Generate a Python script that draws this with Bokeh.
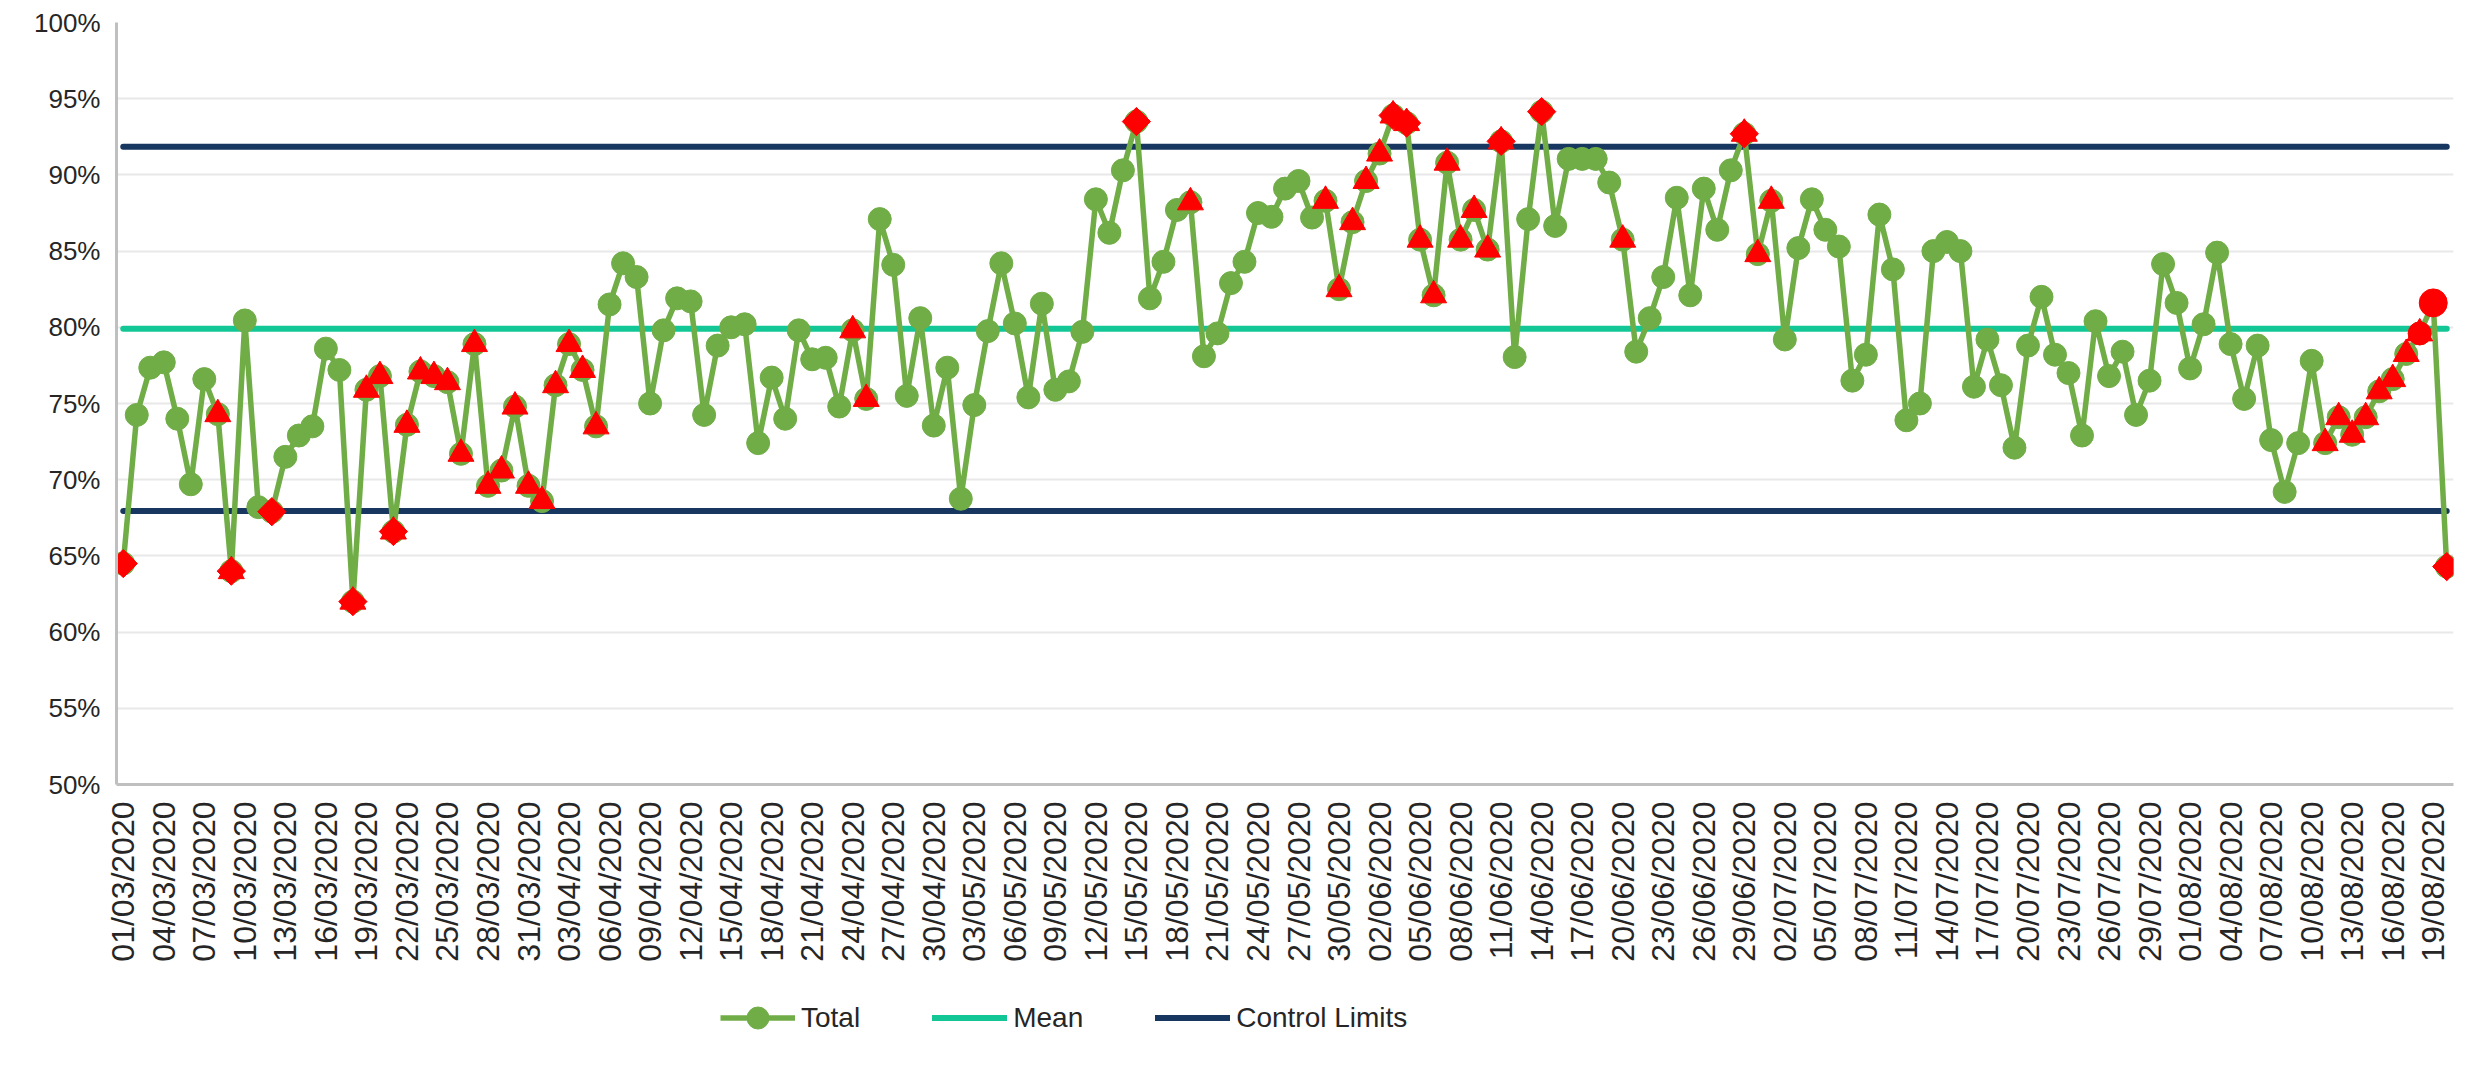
import pandas as pd
from math import pi
from bokeh.plotting import figure
from bokeh.layouts import column
from bokeh.models import (ColumnDataSource, FixedTicker, NumeralTickFormatter,
                          Legend, LegendItem, Range1d)
from bokeh.embed import file_html
from bokeh.resources import INLINE

# ---------------- data (percent) ----------------
total_pct = [
    64.5, 74.25, 77.35, 77.7, 74.0, 69.7, 76.6, 74.3, 64.0, 80.45,
    68.2, 67.9, 71.5, 72.9, 73.5, 78.6, 77.2, 62.0, 75.9, 76.8,
    66.6, 73.6, 77.1, 76.8, 76.4, 71.7, 78.9, 69.6, 70.6, 74.8,
    69.6, 68.6, 76.2, 78.9, 77.2, 73.5, 81.5, 84.2, 83.3, 75.0,
    79.8, 81.9, 81.7, 74.25, 78.8, 80.0, 80.2, 72.4, 76.7, 74.0,
    79.8, 77.9, 78.0, 74.8, 79.8, 75.3, 87.1, 84.1, 75.5, 80.6,
    73.55, 77.35, 68.75, 74.9, 79.75, 84.2, 80.25, 75.4, 81.55, 75.9,
    76.45, 79.7, 88.4, 86.2, 90.3, 93.5, 81.9, 84.3, 87.7, 88.2,
    78.1, 79.6, 82.9, 84.3, 87.5, 87.25, 89.1, 89.6, 87.2, 88.3,
    82.5, 86.9, 89.6, 91.4, 93.9, 93.4, 85.75, 82.1, 90.8, 85.75,
    87.7, 85.1, 92.2, 78.05, 87.1, 94.15, 86.65, 91.05, 91.05, 91.05,
    89.5, 85.75, 78.4, 80.6, 83.3, 88.5, 82.1, 89.1, 86.4, 90.3,
    92.7, 84.8, 88.3, 79.2, 85.2, 88.4, 86.4, 85.3, 76.5, 78.2,
    87.4, 83.8, 73.9, 75.0, 85.0, 85.6, 85.0, 76.1, 79.2, 76.2,
    72.1, 78.8, 82.0, 78.2, 77.0, 72.9, 80.4, 76.8, 78.4, 74.25,
    76.5, 84.15, 81.6, 77.3, 80.2, 84.9, 78.9, 75.3, 78.8, 72.6,
    69.2, 72.4, 77.8, 72.4, 74.1, 72.95, 74.1, 75.8, 76.6, 78.25,
    79.6, 81.6, 64.3,
]
# indices of points flagged in red
trend_idx = [7, 8, 17, 18, 19, 20, 21, 22, 23, 24, 25, 26, 27, 28, 29, 30, 31,
             32, 33, 34, 35, 54, 55, 79, 89, 90, 91, 92, 93, 94, 95, 96, 97,
             98, 99, 100, 101, 102, 111, 120, 121, 122, 163, 164, 165, 166,
             167, 168, 169, 170]
outside_idx = [0, 8, 11, 17, 20, 75, 94, 95, 102, 105, 120, 172]
latest_idx = [170, 171]
mean_pct = 79.9
ucl_pct = 91.85
lcl_pct = 67.95
y_ticks = [0.50, 0.55, 0.60, 0.65, 0.70, 0.75, 0.80, 0.85, 0.90, 0.95, 1.00]
start_date = "2020-03-01"
label_step = 3

# ---------------- derived ----------------
n = len(total_pct)
dates = pd.date_range(start_date, periods=n).strftime("%d/%m/%Y").tolist()
xs = list(range(n))
ys = [v / 100 for v in total_pct]
src = ColumnDataSource(dict(x=xs, y=ys, date=dates))
tri = ColumnDataSource(dict(x=trend_idx, y=[ys[i] for i in trend_idx]))
dia = ColumnDataSource(dict(x=outside_idx, y=[ys[i] for i in outside_idx]))
dot = ColumnDataSource(dict(x=latest_idx, y=[ys[i] for i in latest_idx],
                            s=[23, 28]))

GREEN = "#70AD47"
TEAL = "#12C795"
NAVY = "#173660"
RED = "#FF0000"
FONT = "Liberation Sans"
TXT = "#262626"

p = figure(width=2469, height=990, output_backend="svg", toolbar_location=None,
           x_range=Range1d(-0.5, n - 0.5), y_range=Range1d(0.5, 1.0),
           min_border_left=116, min_border_right=16, min_border_top=22,
           min_border_bottom=206)
p.outline_line_color = None
p.background_fill_color = "white"

# axes
p.yaxis.ticker = FixedTicker(ticks=y_ticks)
p.yaxis.formatter = NumeralTickFormatter(format="0%")
p.yaxis.major_label_text_font = FONT
p.yaxis.major_label_text_font_size = "26px"
p.yaxis.major_label_text_color = TXT
p.yaxis.major_label_standoff = 10
p.yaxis.axis_line_color = "#BFBFBF"
p.yaxis.axis_line_width = 3
p.yaxis.major_tick_line_color = None
p.yaxis.minor_tick_line_color = None

p.xaxis.ticker = FixedTicker(ticks=list(range(0, n, label_step)))
p.xaxis.major_label_overrides = {i: dates[i] for i in range(0, n, label_step)}
p.xaxis.major_label_orientation = pi / 2
p.xaxis.major_label_text_font = FONT
p.xaxis.major_label_text_font_size = "32px"
p.xaxis.major_label_text_color = TXT
p.xaxis.major_label_standoff = 11
p.xaxis.axis_line_color = "#BFBFBF"
p.xaxis.axis_line_width = 3
p.xaxis.major_tick_line_color = None
p.xaxis.minor_tick_line_color = None

p.xgrid.visible = False
p.ygrid.ticker = FixedTicker(ticks=y_ticks)
p.ygrid.grid_line_color = "#E8E8E8"
p.ygrid.grid_line_width = 2

# reference lines
ctrl_kw = dict(line_color=NAVY, line_width=6, line_cap="round")
mean_kw = dict(line_color=TEAL, line_width=6, line_cap="round")
p.segment(x0=[0, 0], x1=[n - 1, n - 1], y0=[ucl_pct / 100, lcl_pct / 100],
          y1=[ucl_pct / 100, lcl_pct / 100], **ctrl_kw)
p.segment(x0=[0], x1=[n - 1], y0=[mean_pct / 100], y1=[mean_pct / 100], **mean_kw)

# data series
line_kw = dict(line_color=GREEN, line_width=5.5)
circ_kw = dict(marker="circle", size=23, fill_color=GREEN, line_color=GREEN)
p.line("x", "y", source=src, **line_kw)
p.scatter("x", "y", source=src, **circ_kw)
p.scatter("x", "y", source=tri, marker="triangle", size=26,
          fill_color=RED, line_color=RED)
p.scatter("x", "y", source=dia, marker="square", angle=pi / 4, size=20,
          fill_color=RED, line_color=RED)
p.scatter("x", "y", source=dot, marker="circle", size="s",
          fill_color=RED, line_color=RED)

# ---------------- legend strip ----------------
lg = figure(width=2469, height=81, output_backend="svg", toolbar_location=None,
            x_range=Range1d(0, 1), y_range=Range1d(0, 1),
            x_axis_type=None, y_axis_type=None, min_border=0)
lg.outline_line_color = None
lg.grid.visible = False
# glyph sources kept outside the visible range: they only feed the legend
off = ColumnDataSource(dict(x=[-10, -9], y=[-10, -10]))
r_ln = lg.line("x", "y", source=off, **line_kw)
r_pt = lg.scatter("x", "y", source=off, **circ_kw)
r_mean = lg.line("x", "y", source=off, **mean_kw)
r_ctrl = lg.line("x", "y", source=off, **ctrl_kw)

legend = Legend(items=[
    LegendItem(label="Total", renderers=[r_ln, r_pt]),
    LegendItem(label="Mean", renderers=[r_mean]),
    LegendItem(label="Control Limits", renderers=[r_ctrl]),
], orientation="horizontal", location=(604, 26),
    label_text_font=FONT, label_text_font_size="28px", label_text_color=TXT,
    glyph_width=75, glyph_height=55, spacing=72, label_standoff=6,
    padding=5, margin=0, border_line_color=None, background_fill_alpha=0)
lg.add_layout(legend, "center")

open("out.html", "w").write(file_html(column(p, lg, spacing=0), INLINE))
